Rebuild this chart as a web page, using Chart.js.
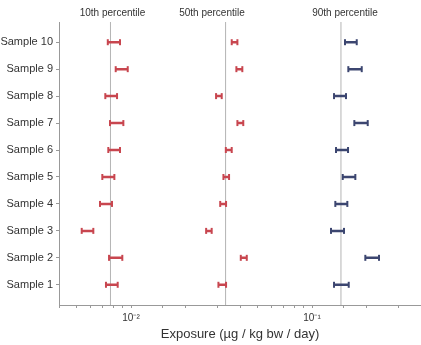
<!DOCTYPE html>
<html>
<head>
<meta charset="utf-8">
<script src="https://cdn.jsdelivr.net/npm/chart.js@4.4.1/dist/chart.umd.min.js"></script>
<style>
  html, body { margin: 0; padding: 0; background: #fff; }
  #wrap { width: 421px; height: 345px; }
</style>
</head>
<body>
<div id="wrap"><canvas id="chart"></canvas></div>
<script>
// rows from bottom (Sample 1) to top (Sample 10)
const samples = ['Sample 1', 'Sample 2', 'Sample 3', 'Sample 4', 'Sample 5',
                 'Sample 6', 'Sample 7', 'Sample 8', 'Sample 9', 'Sample 10'];
const groupNames = ['10th percentile', '50th percentile', '90th percentile'];
const groupLines = [0.0077, 0.0333, 0.1445];
const groupLabelAt = [0.0079, 0.028, 0.152];

const p10Low  = [0.00727, 0.00756, 0.00534, 0.00674, 0.00694, 0.00749, 0.00765, 0.00721, 0.00823, 0.00744];
const p10High = [0.00844, 0.00895, 0.00619, 0.00785, 0.00809, 0.00869, 0.00907, 0.00837, 0.00959, 0.00869];
const p50Low  = [0.0304, 0.0404, 0.0260, 0.0311, 0.0324, 0.0334, 0.0387, 0.0295, 0.0382, 0.0360];
const p50High = [0.0335, 0.0436, 0.0279, 0.0335, 0.0348, 0.0360, 0.0417, 0.0317, 0.0412, 0.0387];
const p90Low  = [0.1323, 0.1970, 0.1273, 0.1345, 0.1478, 0.1357, 0.1713, 0.1323, 0.1587, 0.1521];
const p90High = [0.1595, 0.2345, 0.1502, 0.1567, 0.1735, 0.1581, 0.2031, 0.1541, 0.1882, 0.1766];

const xMin = 0.004;
const xMax = 0.4;

const RED = '#c8464f';
const BLUE = '#3c4670';
const GREY = '#b4b4b4';

// one segment per sample, broken by a null point
function errorBarPoints(low, high) {
    const pts = [];
    low.forEach((v, i) => {
        pts.push({ x: v, y: i + 1 }, { x: high[i], y: i + 1 }, { x: null, y: null });
    });
    return pts;
}

function refLinePoints(values) {
    const pts = [];
    values.forEach(v => {
        pts.push({ x: v, y: 0.25 }, { x: v, y: 10.75 }, { x: null, y: null });
    });
    return pts;
}

function errorBarDataset(low, high, color) {
    return {
        data: errorBarPoints(low, high),
        borderColor: color,
        borderWidth: 2.5,
        pointStyle: 'line',
        rotation: 90,
        pointRadius: 3,
        pointBorderWidth: 2,
        pointBorderColor: color,
        pointHoverRadius: 3,
        spanGaps: false,
        order: 1
    };
}

const headerPlugin = {
    id: 'groupHeaders',
    afterDraw(chart) {
        const ctx = chart.ctx;
        const x = chart.scales.x;
        ctx.save();
        ctx.font = '10px "Liberation Sans", Arial, sans-serif';
        ctx.fillStyle = '#333';
        ctx.textAlign = 'center';
        ctx.textBaseline = 'middle';
        groupNames.forEach((name, i) => {
            ctx.fillText(name, x.getPixelForValue(groupLabelAt[i]), 13);
        });
        ctx.restore();
    }
};

Chart.defaults.font.family = '"Liberation Sans", Arial, sans-serif';
Chart.defaults.color = '#333';

new Chart(document.getElementById('chart'), {
    type: 'line',
    data: {
        datasets: [
            {
                data: refLinePoints(groupLines),
                borderColor: GREY,
                borderWidth: 1,
                pointRadius: 0,
                spanGaps: false,
                order: 2
            },
            errorBarDataset(p10Low, p10High, RED),
            errorBarDataset(p50Low, p50High, RED),
            errorBarDataset(p90Low, p90High, BLUE)
        ]
    },
    options: {
        responsive: true,
        maintainAspectRatio: false,
        animation: false,
        layout: { autoPadding: false, padding: { top: 22, right: 0, left: 0, bottom: 0 } },
        plugins: {
            legend: { display: false },
            tooltip: { enabled: false }
        },
        scales: {
            x: {
                type: 'logarithmic',
                min: xMin,
                max: xMax,
                afterFit: scale => {
                    scale.height = 40;
                    scale.paddingLeft = 0;
                    scale.paddingRight = 0;
                },
                border: { color: '#999', width: 1 },
                grid: { drawOnChartArea: false, tickLength: 3, color: '#999' },
                ticks: {
                    autoSkip: false,
                    maxRotation: 0,
                    padding: 4,
                    font: { size: 10 },
                    callback: value => {
                        const p = Math.log10(value);
                        if (Math.abs(p - Math.round(p)) > 1e-9) return '';
                        return Math.round(p) === -2 ? '10\u207B\u00B2' : (Math.round(p) === -1 ? '10\u207B\u00B9' : '');
                    }
                },
                title: {
                    display: true,
                    text: 'Exposure (\u00B5g / kg bw / day)',
                    font: { size: 13 },
                    padding: { top: 2, bottom: 3 }
                }
            },
            y: {
                type: 'linear',
                min: 0.25,
                max: 10.75,
                afterBuildTicks: scale => {
                    scale.ticks = samples.map((s, i) => ({ value: i + 1 }));
                },
                afterFit: scale => { scale.width = 59; },
                border: { color: '#999', width: 1 },
                grid: { drawOnChartArea: false, tickLength: 3, color: '#999' },
                ticks: {
                    padding: 3,
                    font: { size: 11 },
                    callback: value => samples[value - 1]
                }
            }
        }
    },
    plugins: [headerPlugin]
});
</script>
</body>
</html>
